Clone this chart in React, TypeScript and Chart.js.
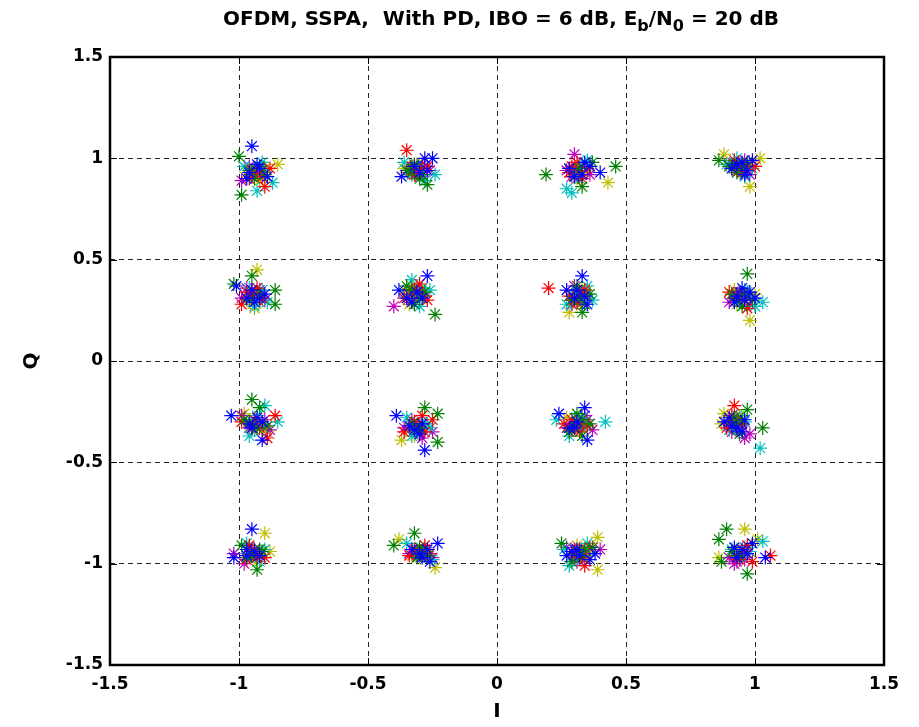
import { useEffect, useRef } from "react";
import { Chart, registerables } from "chart.js";

Chart.register(...registerables);

// In-phase / quadrature samples per marker colour
const blueIQ: number[][] = [
  [-0.95, 1.06], [-0.92, 0.95], [-0.97, 0.9], [-0.89, 0.91], [-0.93, 0.97], [-0.96, 0.93],
  [-0.37, 0.91], [-0.28, 1.0], [-0.25, 1.0], [-0.3, 0.93], [-0.32, 0.96], [-0.27, 0.94],
  [0.4, 0.93], [0.34, 0.98], [0.3, 0.91], [0.36, 0.96], [0.28, 0.95], [0.33, 0.92],
  [0.93, 0.97], [0.97, 0.94], [0.99, 0.99], [0.91, 0.95], [0.95, 0.98], [0.96, 0.92],
  [-1.01, 0.37], [-0.94, 0.29], [-0.9, 0.33], [-0.97, 0.31], [-0.95, 0.35], [-0.92, 0.31],
  [-0.27, 0.42], [-0.33, 0.29], [-0.38, 0.35], [-0.29, 0.31], [-0.31, 0.34], [-0.35, 0.31],
  [0.33, 0.42], [0.3, 0.31], [0.35, 0.28], [0.27, 0.35], [0.31, 0.35], [0.34, 0.32],
  [0.98, 0.34], [0.92, 0.29], [1.0, 0.31], [0.95, 0.36], [0.93, 0.32], [0.96, 0.3],
  [-1.03, -0.27], [-0.91, -0.39], [-0.96, -0.31], [-0.93, -0.28], [-0.95, -0.33], [-0.91, -0.3],
  [-0.39, -0.27], [-0.28, -0.44], [-0.34, -0.32], [-0.3, -0.36], [-0.32, -0.34], [-0.29, -0.31],
  [0.24, -0.26], [0.35, -0.39], [0.34, -0.23], [0.3, -0.33], [0.31, -0.3], [0.28, -0.33],
  [0.91, -0.32], [0.95, -0.35], [0.88, -0.3], [0.96, -0.29], [0.93, -0.33], [0.9, -0.28],
  [-0.95, -0.83], [-1.02, -0.97], [-0.92, -0.96], [-0.97, -0.93], [-0.94, -0.94], [-0.97, -0.96],
  [-0.23, -0.9], [-0.29, -0.97], [-0.33, -0.93], [-0.26, -0.99], [-0.3, -0.95], [-0.27, -0.93],
  [0.36, -0.98], [0.31, -0.93], [0.27, -0.96], [0.38, -0.95], [0.32, -0.96], [0.29, -0.94],
  [1.04, -0.97], [0.97, -0.95], [0.92, -0.92], [0.99, -0.9], [0.95, -0.93], [0.93, -0.97],
];

const greenIQ: number[][] = [
  [-1.0, 1.01], [-0.99, 0.82], [-0.96, 0.94], [-0.9, 0.92], [-0.94, 0.9], [-0.92, 0.96],
  [-0.27, 0.87], [-0.3, 0.9], [-0.35, 0.94], [-0.32, 0.97], [-0.33, 0.93], [-0.29, 0.92],
  [0.19, 0.92], [0.46, 0.96], [0.37, 0.98], [0.33, 0.86], [0.3, 0.91], [0.32, 0.95],
  [0.86, 0.99], [0.93, 0.93], [0.97, 0.98], [0.9, 0.96], [0.92, 0.97], [0.95, 0.95],
  [-1.02, 0.38], [-0.95, 0.42], [-0.86, 0.35], [-0.86, 0.28], [-0.92, 0.33], [-0.96, 0.3],
  [-0.24, 0.23], [-0.35, 0.37], [-0.28, 0.34], [-0.32, 0.28], [-0.3, 0.31], [-0.33, 0.35],
  [0.33, 0.24], [0.36, 0.33], [0.29, 0.3], [0.31, 0.37], [0.32, 0.31], [0.34, 0.28],
  [0.97, 0.43], [0.95, 0.27], [0.91, 0.33], [0.99, 0.3], [0.93, 0.3], [0.96, 0.33],
  [-0.95, -0.19], [-0.92, -0.23], [-0.98, -0.29], [-0.89, -0.32], [-0.93, -0.33], [-0.96, -0.3],
  [-0.28, -0.23], [-0.23, -0.26], [-0.23, -0.4], [-0.31, -0.34], [-0.3, -0.33], [-0.33, -0.31],
  [0.31, -0.26], [0.28, -0.35], [0.36, -0.31], [0.33, -0.37], [0.3, -0.32], [0.33, -0.29],
  [0.97, -0.24], [1.03, -0.33], [0.92, -0.28], [0.94, -0.36], [0.92, -0.31], [0.95, -0.29],
  [-0.93, -1.03], [-0.99, -0.91], [-0.97, -0.97], [-0.91, -0.94], [-0.95, -0.96], [-0.92, -0.93],
  [-0.4, -0.91], [-0.32, -0.85], [-0.27, -0.96], [-0.3, -0.92], [-0.29, -0.94], [-0.31, -0.97],
  [0.25, -0.9], [0.33, -0.96], [0.37, -0.92], [0.29, -0.99], [0.31, -0.94], [0.34, -0.93],
  [0.89, -0.83], [0.86, -0.88], [0.97, -1.05], [0.87, -0.99], [0.94, -0.96], [0.91, -0.94],
];

const redIQ: number[][] = [
  [-0.9, 0.86], [-0.93, 0.93], [-0.88, 0.95], [-0.96, 0.9], [-0.95, 0.94], [-0.91, 0.91],
  [-0.35, 1.04], [-0.29, 0.95], [-0.32, 0.92], [-0.27, 0.96], [-0.31, 0.93], [-0.33, 0.96],
  [0.31, 0.98], [0.35, 0.95], [0.28, 0.93], [0.33, 0.9], [0.32, 0.94], [0.29, 0.96],
  [1.0, 0.96], [0.95, 0.93], [0.92, 0.99], [0.97, 0.96], [0.94, 0.97], [0.93, 0.94],
  [-0.93, 0.36], [-0.97, 0.34], [-0.91, 0.31], [-0.99, 0.28], [-0.94, 0.33], [-0.95, 0.31],
  [-0.3, 0.38], [-0.33, 0.33], [-0.27, 0.3], [-0.36, 0.31], [-0.32, 0.35], [-0.29, 0.33],
  [0.2, 0.36], [0.34, 0.35], [0.31, 0.29], [0.28, 0.32], [0.33, 0.33], [0.3, 0.3],
  [0.94, 0.32], [0.97, 0.26], [0.9, 0.34], [0.96, 0.3], [0.95, 0.33], [0.92, 0.31],
  [-0.86, -0.27], [-0.89, -0.38], [-0.99, -0.3], [-0.95, -0.33], [-0.94, -0.29], [-0.92, -0.33],
  [-0.25, -0.29], [-0.32, -0.3], [-0.36, -0.35], [-0.29, -0.27], [-0.31, -0.32], [-0.28, -0.35],
  [0.29, -0.29], [0.35, -0.32], [0.32, -0.35], [0.26, -0.31], [0.32, -0.31], [0.29, -0.34],
  [0.92, -0.22], [0.89, -0.33], [0.95, -0.31], [0.91, -0.27], [0.93, -0.29], [0.91, -0.31],
  [-0.97, -0.98], [-0.93, -0.95], [-0.9, -0.97], [-0.96, -0.91], [-0.95, -0.94], [-0.93, -0.97],
  [-0.31, -0.94], [-0.28, -0.91], [-0.26, -0.95], [-0.34, -0.96], [-0.29, -0.96], [-0.32, -0.93],
  [0.34, -1.01], [0.3, -0.95], [0.36, -0.92], [0.33, -0.97], [0.3, -0.96], [0.32, -0.93],
  [1.06, -0.96], [0.99, -0.99], [0.97, -0.91], [0.93, -0.96], [0.96, -0.94], [0.94, -0.98],
];

const cyanIQ: number[][] = [
  [-0.87, 0.88], [-0.93, 0.84], [-0.98, 0.96], [-0.91, 0.98], [-0.94, 0.95], [-0.9, 0.93],
  [-0.24, 0.92], [-0.36, 0.98], [-0.31, 0.96], [-0.28, 0.89], [-0.3, 0.95], [-0.33, 0.92],
  [0.27, 0.85], [0.29, 0.83], [0.35, 0.99], [0.32, 0.9], [0.3, 0.94], [0.33, 0.97],
  [0.93, 1.0], [0.96, 0.91], [0.99, 0.95], [0.89, 0.97], [0.95, 0.96], [0.92, 0.98],
  [-0.89, 0.29], [-0.92, 0.34], [-0.96, 0.36], [-0.94, 0.27], [-0.93, 0.31], [-0.91, 0.35],
  [-0.33, 0.4], [-0.26, 0.35], [-0.3, 0.27], [-0.35, 0.32], [-0.32, 0.32], [-0.29, 0.36],
  [0.27, 0.28], [0.35, 0.37], [0.3, 0.33], [0.37, 0.3], [0.33, 0.3], [0.31, 0.34],
  [1.03, 0.29], [0.93, 0.31], [0.97, 0.34], [1.0, 0.27], [0.94, 0.29], [0.96, 0.35],
  [-0.9, -0.22], [-0.85, -0.3], [-0.96, -0.37], [-0.93, -0.27], [-0.92, -0.31], [-0.94, -0.34],
  [-0.29, -0.3], [-0.26, -0.33], [-0.33, -0.37], [-0.35, -0.28], [-0.31, -0.35], [-0.27, -0.31],
  [0.42, -0.3], [0.23, -0.29], [0.28, -0.37], [0.33, -0.28], [0.3, -0.28], [0.33, -0.33],
  [1.02, -0.43], [0.93, -0.27], [0.9, -0.34], [0.96, -0.3], [0.92, -0.33], [0.94, -0.31],
  [-0.97, -0.9], [-0.92, -0.99], [-0.9, -0.93], [-0.95, -0.96], [-0.93, -0.95], [-0.96, -0.93],
  [-0.27, -0.94], [-0.25, -0.98], [-0.35, -0.9], [-0.3, -0.96], [-0.31, -0.93], [-0.28, -0.96],
  [0.28, -1.01], [0.31, -0.97], [0.35, -0.9], [0.26, -0.93], [0.33, -0.94], [0.3, -0.98],
  [1.03, -0.89], [0.95, -0.97], [0.91, -0.93], [0.98, -0.94], [0.93, -0.95], [0.96, -0.92],
];

const magentaIQ: number[][] = [
  [-0.96, 0.96], [-0.99, 0.89], [-0.94, 0.92], [-0.91, 0.94], [-0.92, 0.93], [-0.95, 0.91],
  [-0.33, 0.95], [-0.3, 0.91], [-0.26, 0.94], [-0.34, 0.93], [-0.32, 0.94], [-0.29, 0.97],
  [0.3, 1.02], [0.33, 0.96], [0.27, 0.94], [0.36, 0.92], [0.31, 0.95], [0.29, 0.91],
  [0.9, 0.97], [0.94, 0.95], [0.98, 0.92], [0.96, 0.99], [0.93, 0.96], [0.95, 0.94],
  [-0.97, 0.36], [-0.93, 0.33], [-0.9, 0.3], [-0.99, 0.31], [-0.95, 0.34], [-0.92, 0.35],
  [-0.4, 0.27], [-0.31, 0.36], [-0.28, 0.32], [-0.33, 0.3], [-0.3, 0.34], [-0.34, 0.33],
  [0.32, 0.34], [0.29, 0.28], [0.35, 0.31], [0.3, 0.37], [0.33, 0.29], [0.31, 0.32],
  [0.9, 0.29], [0.94, 0.34], [0.98, 0.28], [0.96, 0.32], [0.93, 0.33], [0.95, 0.3],
  [-0.96, -0.33], [-0.92, -0.31], [-0.99, -0.27], [-0.88, -0.34], [-0.94, -0.32], [-0.9, -0.29],
  [-0.25, -0.35], [-0.33, -0.29], [-0.29, -0.38], [-0.36, -0.33], [-0.32, -0.31], [-0.3, -0.35],
  [0.34, -0.27], [0.3, -0.31], [0.37, -0.34], [0.27, -0.33], [0.32, -0.32], [0.35, -0.29],
  [0.98, -0.36], [0.94, -0.33], [0.91, -0.35], [0.96, -0.38], [0.93, -0.34], [0.95, -0.32],
  [-1.02, -0.95], [-0.96, -0.92], [-0.93, -0.97], [-0.98, -1.0], [-0.96, -0.96], [-0.94, -0.93],
  [-0.31, -0.96], [-0.28, -0.93], [-0.34, -0.95], [-0.25, -0.97], [-0.3, -0.94], [-0.27, -0.95],
  [0.4, -0.93], [0.27, -0.92], [0.31, -0.99], [0.34, -0.95], [0.32, -0.97], [0.3, -0.93],
  [0.92, -1.0], [0.94, -0.95], [0.9, -0.97], [0.96, -0.98], [0.95, -0.97], [0.93, -0.99],
];

const yellowIQ: number[][] = [
  [-0.85, 0.97], [-0.94, 0.92], [-0.97, 0.93], [-0.92, 0.89], [-0.93, 0.94], [-0.9, 0.95],
  [-0.33, 0.92], [-0.36, 0.95], [-0.29, 0.94], [-0.31, 0.97], [-0.3, 0.92], [-0.34, 0.94],
  [0.43, 0.88], [0.3, 0.92], [0.28, 0.95], [0.33, 0.93], [0.31, 0.9], [0.35, 0.94],
  [1.02, 1.0], [0.98, 0.86], [0.88, 1.02], [0.94, 0.94], [0.96, 0.97], [0.92, 0.95],
  [-0.93, 0.45], [-0.97, 0.3], [-0.94, 0.26], [-0.91, 0.32], [-0.94, 0.33], [-0.92, 0.29],
  [-0.32, 0.33], [-0.36, 0.35], [-0.29, 0.36], [-0.34, 0.28], [-0.3, 0.32], [-0.33, 0.37],
  [0.28, 0.24], [0.32, 0.33], [0.35, 0.35], [0.3, 0.3], [0.33, 0.36], [0.31, 0.28],
  [0.98, 0.2], [0.94, 0.3], [0.92, 0.35], [1.0, 0.33], [0.95, 0.32], [0.93, 0.28],
  [-0.89, -0.35], [-0.95, -0.34], [-0.93, -0.3], [-0.98, -0.26], [-0.93, -0.32], [-0.91, -0.34],
  [-0.37, -0.39], [-0.31, -0.31], [-0.34, -0.34], [-0.27, -0.32], [-0.3, -0.34], [-0.32, -0.37],
  [0.31, -0.34], [0.27, -0.28], [0.34, -0.3], [0.29, -0.32], [0.3, -0.3], [0.32, -0.33],
  [0.88, -0.26], [0.9, -0.29], [0.93, -0.32], [0.87, -0.31], [0.91, -0.3], [0.94, -0.27],
  [-0.9, -0.85], [-0.88, -0.94], [-0.93, -0.99], [-0.95, -0.95], [-0.92, -0.95], [-0.94, -0.97],
  [-0.38, -0.88], [-0.24, -1.02], [-0.33, -0.96], [-0.29, -0.94], [-0.28, -0.93], [-0.3, -0.97],
  [0.39, -0.87], [0.39, -1.03], [0.31, -0.91], [0.35, -0.96], [0.33, -0.95], [0.29, -0.96],
  [0.96, -0.83], [1.01, -0.88], [0.86, -0.97], [0.93, -0.93], [0.94, -0.94], [0.92, -0.96],
];

const seriesData = [blueIQ, greenIQ, redIQ, cyanIQ, magentaIQ, yellowIQ];
const seriesColors = ["#0000FF", "#008000", "#FF0000", "#00BFBF", "#BF00BF", "#BFBF00"];
const axisMin = -1.5;
const axisMax = 1.5;
const tickStep = 0.5;

const titleParts: { text: string; sub: boolean }[] = [
  { text: "OFDM, SSPA,  With PD, IBO = 6 dB, E", sub: false },
  { text: "b", sub: true },
  { text: "/N", sub: false },
  { text: "0", sub: true },
  { text: " = 20 dB", sub: false },
];

const FONT = "'DejaVu Sans', 'Liberation Sans', Arial, sans-serif";

const frameAndTitle = {
  id: "frameAndTitle",
  afterDraw(chart: any) {
    const { ctx, chartArea } = chart;
    const { left, right, top, bottom } = chartArea;
    ctx.save();
    ctx.strokeStyle = "#000";
    ctx.lineWidth = 1;
    const xs = chart.scales.x;
    const ys = chart.scales.y;
    const tl = 7;
    xs.ticks.forEach((t: any) => {
      const px = Math.round(xs.getPixelForValue(t.value)) + 0.5;
      ctx.beginPath();
      ctx.moveTo(px, bottom);
      ctx.lineTo(px, bottom - tl);
      ctx.moveTo(px, top);
      ctx.lineTo(px, top + tl);
      ctx.stroke();
    });
    ys.ticks.forEach((t: any) => {
      const py = Math.round(ys.getPixelForValue(t.value)) + 0.5;
      ctx.beginPath();
      ctx.moveTo(left, py);
      ctx.lineTo(left + tl, py);
      ctx.moveTo(right, py);
      ctx.lineTo(right - tl, py);
      ctx.stroke();
    });
    ctx.lineWidth = 2.5;
    ctx.strokeRect(left, top, right - left, bottom - top);
    const mainFont = `bold 20px ${FONT}`;
    const subFont = `bold 16px ${FONT}`;
    let total = 0;
    titleParts.forEach((p) => {
      ctx.font = p.sub ? subFont : mainFont;
      total += ctx.measureText(p.text).width;
    });
    let x = (left + right) / 2 + 4 - total / 2;
    const baseY = 25;
    ctx.fillStyle = "#000";
    ctx.textBaseline = "alphabetic";
    ctx.textAlign = "left";
    titleParts.forEach((p) => {
      ctx.font = p.sub ? subFont : mainFont;
      ctx.fillText(p.text, x, p.sub ? baseY + 6 : baseY);
      x += ctx.measureText(p.text).width;
    });
    ctx.restore();
  },
};

const fmtTick = (v: any) => String(Number(v));

export default function App() {
  const canvasRef = useRef<HTMLCanvasElement | null>(null);

  useEffect(() => {
    document.body.style.margin = "0";
    const canvas = canvasRef.current;
    if (!canvas) return;
    const tickFont = { family: FONT, size: 17, weight: "bold" as const };
    const chart = new Chart(canvas, {
      type: "scatter",
      data: {
        datasets: seriesData.map((pts, i) => ({
          label: `s${i}`,
          data: pts.map(([x, y]) => ({ x, y })),
          pointStyle: "star",
          pointRadius: 7,
          pointBorderWidth: 1.2,
          borderColor: seriesColors[i],
          backgroundColor: seriesColors[i],
          showLine: false,
        })),
      },
      options: {
        animation: false,
        responsive: false,
        maintainAspectRatio: false,
        layout: { padding: { top: 57, right: 35, left: 0, bottom: 0 } },
        plugins: {
          legend: { display: false },
          title: { display: false },
          tooltip: { enabled: false },
        },
        scales: {
          x: {
            type: "linear",
            min: axisMin,
            max: axisMax,
            ticks: { stepSize: tickStep, color: "#000", font: tickFont, padding: 9, callback: fmtTick },
            grid: { color: "#222", lineWidth: 1, drawTicks: false },
            border: { display: false, dash: [5, 4] },
            title: {
              display: true,
              text: "I",
              color: "#000",
              font: { family: FONT, size: 20, weight: "bold" },
              padding: { top: 0, bottom: 3 },
            },
            afterFit: (s: any) => {
              s.height = 62;
            },
          },
          y: {
            type: "linear",
            min: axisMin,
            max: axisMax,
            ticks: { stepSize: tickStep, color: "#000", font: tickFont, padding: 7, callback: fmtTick },
            grid: { color: "#222", lineWidth: 1, drawTicks: false },
            border: { display: false, dash: [5, 4] },
            title: {
              display: true,
              text: "Q",
              color: "#000",
              font: { family: FONT, size: 20, weight: "bold" },
              padding: { top: 20, bottom: 0 },
            },
            afterFit: (s: any) => {
              s.width = 110;
            },
          },
        },
      },
      plugins: [frameAndTitle],
    });
    return () => chart.destroy();
  }, []);

  return (
    <div style={{ width: 919, height: 727, position: "relative", background: "#fff" }}>
      <canvas ref={canvasRef} width={919} height={727} style={{ display: "block" }} />
    </div>
  );
}
